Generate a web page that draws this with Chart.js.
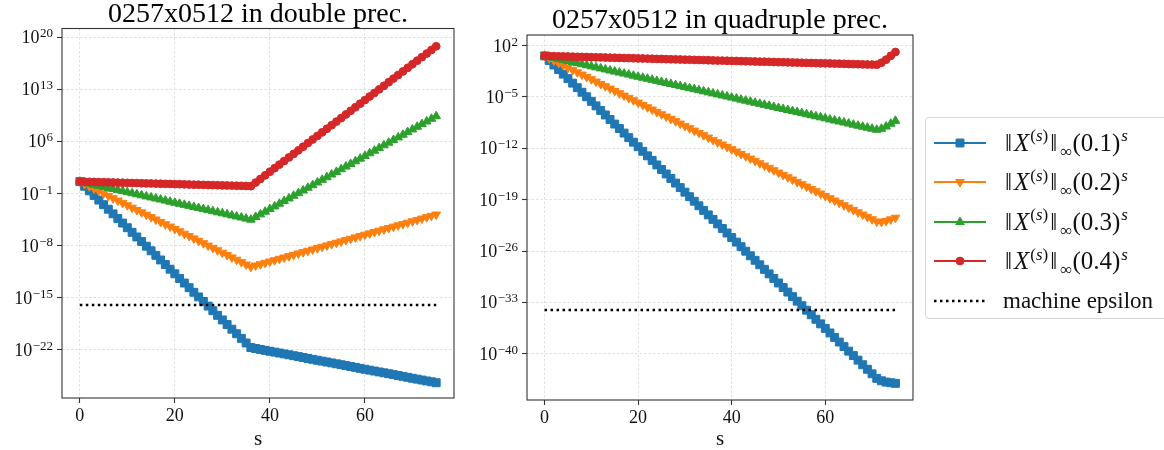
<!DOCTYPE html>
<html>
<head>
<meta charset="utf-8">
<title>0257x0512 norms</title>
<script src="https://cdn.jsdelivr.net/npm/chart.js@4.4.1/dist/chart.umd.min.js"></script>
<style>
  html, body { margin: 0; padding: 0; background: #fff; overflow: hidden; }
  #wrap { position: relative; width: 1164px; height: 450px; }
  canvas.plot { position: absolute; top: 0; }
  #legend {
    position: absolute; left: 925px; top: 117px; width: 260px; height: 200px;
    border: 1px solid #d6d6d6; border-radius: 4px; background: #fff;
    font-family: 'Liberation Serif', 'DejaVu Serif', serif; font-size: 23px; color: #111;
  }
  .item { position: absolute; left: 0; height: 30px; display: flex; align-items: center; white-space: nowrap; }
  .item canvas { margin-left: 8px; margin-right: 17px; }
  .item .math { font-size: 25px; }
  .item .bar { padding: 0 2px; }
  .item sup, .item sub { font-size: 17px; line-height: 0; margin-left: 1px; }
</style>
</head>
<body>
<div id="wrap">
  <canvas id="chartDouble" class="plot" width="470" height="450" style="left:0"></canvas>
  <canvas id="chartQuad" class="plot" width="450" height="450" style="left:470px"></canvas>
  <div id="legend"></div>
</div>
<script>
const FONT = "'Liberation Serif', 'DejaVu Serif', serif";

// iteration index s
const steps = [0, 1, 2, 3, 4, 5, 6, 7, 8, 9, 10, 11, 12, 13, 14, 15, 16, 17, 18, 19,
  20, 21, 22, 23, 24, 25, 26, 27, 28, 29, 30, 31, 32, 33, 34, 35, 36, 37, 38, 39,
  40, 41, 42, 43, 44, 45, 46, 47, 48, 49, 50, 51, 52, 53, 54, 55, 56, 57, 58, 59,
  60, 61, 62, 63, 64, 65, 66, 67, 68, 69, 70, 71, 72, 73, 74, 75];

const bases = ['0.1', '0.2', '0.3', '0.4'];
const xTicks = [0, 20, 40, 60];
const dblTickExp = [-22, -15, -8, -1, 6, 13, 20];
const quadTickExp = [-40, -33, -26, -19, -12, -5, 2];

// unit roundoff, 2^-53 and 2^-113
const epsDouble = 1.1102230246251565e-16;
const epsQuad = 9.629649721936179e-35;

// log10 of ||X^(s)||_inf * base^s, double precision run
const dbl01 = [0.60, -0.02, -0.64, -1.26, -1.88, -2.50, -3.11, -3.73, -4.35, -4.97,
  -5.59, -6.21, -6.83, -7.45, -8.07, -8.69, -9.30, -9.92, -10.54, -11.16,
  -11.78, -12.40, -13.02, -13.64, -14.26, -14.88, -15.49, -16.11, -16.73, -17.35,
  -17.97, -18.59, -19.21, -19.83, -20.45, -21.07, -21.68, -21.80, -21.93, -22.05,
  -22.17, -22.29, -22.41, -22.53, -22.65, -22.77, -22.89, -23.01, -23.14, -23.26,
  -23.38, -23.50, -23.62, -23.74, -23.86, -23.98, -24.10, -24.22, -24.34, -24.47,
  -24.59, -24.71, -24.83, -24.95, -25.07, -25.19, -25.31, -25.43, -25.55, -25.67,
  -25.80, -25.92, -26.04, -26.16, -26.28, -26.40];
const dbl02 = [0.60, 0.28, -0.04, -0.35, -0.67, -0.99, -1.31, -1.63, -1.94, -2.26,
  -2.58, -2.90, -3.22, -3.53, -3.85, -4.17, -4.49, -4.81, -5.12, -5.44,
  -5.76, -6.08, -6.40, -6.71, -7.03, -7.35, -7.67, -7.99, -8.30, -8.62,
  -8.94, -9.26, -9.58, -9.89, -10.21, -10.53, -10.85, -10.67, -10.49, -10.31,
  -10.13, -9.95, -9.77, -9.59, -9.41, -9.23, -9.05, -8.87, -8.69, -8.51,
  -8.33, -8.15, -7.97, -7.79, -7.61, -7.43, -7.25, -7.07, -6.89, -6.71,
  -6.53, -6.35, -6.17, -5.99, -5.81, -5.63, -5.45, -5.27, -5.09, -4.91,
  -4.73, -4.55, -4.37, -4.18, -4.00, -3.82];
const dbl03 = [0.60, 0.46, 0.32, 0.17, 0.03, -0.11, -0.25, -0.39, -0.54, -0.68,
  -0.82, -0.96, -1.10, -1.24, -1.39, -1.53, -1.67, -1.81, -1.95, -2.10,
  -2.24, -2.38, -2.52, -2.66, -2.81, -2.95, -3.09, -3.23, -3.37, -3.52,
  -3.66, -3.80, -3.94, -4.08, -4.22, -4.37, -4.51, -4.15, -3.80, -3.44,
  -3.08, -2.73, -2.37, -2.01, -1.66, -1.30, -0.95, -0.59, -0.23, 0.12,
  0.48, 0.84, 1.19, 1.55, 1.90, 2.26, 2.62, 2.97, 3.33, 3.68,
  4.04, 4.40, 4.75, 5.11, 5.47, 5.82, 6.18, 6.53, 6.89, 7.25,
  7.60, 7.96, 8.32, 8.67, 9.03, 9.38];
const dbl04 = [0.60, 0.58, 0.57, 0.55, 0.53, 0.52, 0.50, 0.48, 0.46, 0.45,
  0.43, 0.41, 0.40, 0.38, 0.36, 0.35, 0.33, 0.31, 0.30, 0.28,
  0.26, 0.25, 0.23, 0.21, 0.19, 0.18, 0.16, 0.14, 0.13, 0.11,
  0.09, 0.08, 0.06, 0.04, 0.03, 0.01, -0.01, 0.47, 0.95, 1.44,
  1.92, 2.40, 2.88, 3.36, 3.84, 4.32, 4.80, 5.28, 5.77, 6.25,
  6.73, 7.21, 7.69, 8.17, 8.65, 9.13, 9.61, 10.10, 10.58, 11.06,
  11.54, 12.02, 12.50, 12.98, 13.46, 13.94, 14.43, 14.91, 15.39, 15.87,
  16.35, 16.83, 17.31, 17.79, 18.27, 18.76];

// same quantities, quadruple precision run
const quad01 = [0.60, -0.02, -0.64, -1.26, -1.88, -2.50, -3.11, -3.73, -4.35, -4.97,
  -5.59, -6.21, -6.83, -7.45, -8.07, -8.69, -9.30, -9.92, -10.54, -11.16,
  -11.78, -12.40, -13.02, -13.64, -14.26, -14.88, -15.49, -16.11, -16.73, -17.35,
  -17.97, -18.59, -19.21, -19.83, -20.45, -21.07, -21.68, -22.30, -22.92, -23.54,
  -24.16, -24.78, -25.40, -26.02, -26.64, -27.26, -27.87, -28.49, -29.11, -29.73,
  -30.35, -30.97, -31.59, -32.21, -32.83, -33.45, -34.06, -34.68, -35.30, -35.92,
  -36.54, -37.16, -37.78, -38.40, -39.02, -39.64, -40.25, -40.87, -41.49, -42.11,
  -42.73, -43.35, -43.68, -43.86, -43.95, -44.03];
const quad02 = [0.60, 0.28, -0.04, -0.35, -0.67, -0.99, -1.31, -1.63, -1.94, -2.26,
  -2.58, -2.90, -3.22, -3.53, -3.85, -4.17, -4.49, -4.81, -5.12, -5.44,
  -5.76, -6.08, -6.40, -6.71, -7.03, -7.35, -7.67, -7.99, -8.30, -8.62,
  -8.94, -9.26, -9.58, -9.89, -10.21, -10.53, -10.85, -11.17, -11.48, -11.80,
  -12.12, -12.44, -12.76, -13.07, -13.39, -13.71, -14.03, -14.35, -14.66, -14.98,
  -15.30, -15.62, -15.94, -16.25, -16.57, -16.89, -17.21, -17.53, -17.84, -18.16,
  -18.48, -18.80, -19.12, -19.43, -19.75, -20.07, -20.39, -20.71, -21.02, -21.34,
  -21.66, -21.98, -22.01, -21.89, -21.68, -21.46];
const quad03 = [0.60, 0.46, 0.32, 0.17, 0.03, -0.11, -0.25, -0.39, -0.54, -0.68,
  -0.82, -0.96, -1.10, -1.24, -1.39, -1.53, -1.67, -1.81, -1.95, -2.10,
  -2.24, -2.38, -2.52, -2.66, -2.81, -2.95, -3.09, -3.23, -3.37, -3.52,
  -3.66, -3.80, -3.94, -4.08, -4.22, -4.37, -4.51, -4.65, -4.79, -4.93,
  -5.08, -5.22, -5.36, -5.50, -5.64, -5.79, -5.93, -6.07, -6.21, -6.35,
  -6.50, -6.64, -6.78, -6.92, -7.06, -7.20, -7.35, -7.49, -7.63, -7.77,
  -7.91, -8.06, -8.20, -8.34, -8.48, -8.62, -8.77, -8.91, -9.05, -9.19,
  -9.33, -9.47, -9.33, -9.03, -8.64, -8.25];
const quad04 = [0.60, 0.58, 0.57, 0.55, 0.53, 0.52, 0.50, 0.48, 0.46, 0.45,
  0.43, 0.41, 0.40, 0.38, 0.36, 0.35, 0.33, 0.31, 0.30, 0.28,
  0.26, 0.25, 0.23, 0.21, 0.19, 0.18, 0.16, 0.14, 0.13, 0.11,
  0.09, 0.08, 0.06, 0.04, 0.03, 0.01, -0.01, -0.03, -0.04, -0.06,
  -0.08, -0.09, -0.11, -0.13, -0.14, -0.16, -0.18, -0.19, -0.21, -0.23,
  -0.25, -0.26, -0.28, -0.30, -0.31, -0.33, -0.35, -0.36, -0.38, -0.40,
  -0.41, -0.43, -0.45, -0.46, -0.48, -0.50, -0.52, -0.53, -0.55, -0.57,
  -0.58, -0.60, -0.33, 0.09, 0.61, 1.13];

// matplotlib tab colours and marker shapes per base
const styles = [
  { color: '#1f77b4', point: 'rect', rot: 0, r: 5.6 },
  { color: '#ff7f0e', point: 'triangle', rot: 180, r: 5 },
  { color: '#2ca02c', point: 'triangle', rot: 0, r: 5 },
  { color: '#d62728', point: 'circle', rot: 0, r: 3.9 }
];

function series(exps, k) {
  const st = styles[k];
  return {
    data: exps.map((e, i) => ({ x: steps[i], y: 10 ** e })),
    borderColor: st.color,
    backgroundColor: st.color,
    borderWidth: 2,
    pointStyle: st.point,
    pointRotation: st.rot,
    pointRadius: st.r,
    pointBorderWidth: 1,
    pointBackgroundColor: st.color,
    pointBorderColor: st.color,
    tension: 0,
    fill: false,
    order: 4 - k
  };
}

function epsLine(eps) {
  return {
    data: [{ x: steps[0], y: eps }, { x: steps[steps.length - 1], y: eps }],
    borderColor: '#000',
    borderWidth: 2.5,
    borderDash: [2.5, 3.5],
    pointRadius: 0,
    fill: false,
    order: 0
  };
}

// top/right spines and 10^n tick labels
const framePlugin = {
  id: 'frame',
  afterDraw(chart) {
    const { ctx, chartArea: a } = chart;
    const y = chart.scales.y;
    ctx.save();
    ctx.strokeStyle = '#333';
    ctx.lineWidth = 1.1;
    ctx.strokeRect(a.left, a.top, a.right - a.left, a.bottom - a.top);
    ctx.fillStyle = '#111';
    ctx.textAlign = 'left';
    ctx.textBaseline = 'alphabetic';
    y.ticks.forEach(t => {
      const py = y.getPixelForValue(t.value);
      const exp = String(Math.round(Math.log10(t.value))).replace('-', '\u2212');
      ctx.font = '18px ' + FONT;
      const wb = ctx.measureText('10').width;
      ctx.font = '13px ' + FONT;
      const we = ctx.measureText(exp).width;
      const x0 = a.left - 9 - wb - we - 0.5;
      ctx.font = '18px ' + FONT;
      ctx.fillText('10', x0, py + 6);
      ctx.font = '13px ' + FONT;
      ctx.fillText(exp, x0 + wb + 0.5, py);
    });
    ctx.restore();
  }
};

function makeOptions(cfg) {
  const grid = {
    color: 'rgba(190,190,190,0.6)',
    lineWidth: 0.8,
    tickLength: 5,
    tickColor: '#333',
    tickWidth: 1.1
  };
  return {
    responsive: false,
    animation: false,
    events: [],
    layout: { padding: { left: 0, right: cfg.padRight, top: 0, bottom: 0 } },
    plugins: {
      legend: { display: false },
      tooltip: { enabled: false },
      title: {
        display: true,
        fullSize: false,
        text: cfg.title,
        color: '#000',
        font: { family: FONT, size: 28, weight: 'normal', lineHeight: 1 },
        padding: { top: cfg.titleTop, bottom: 0 }
      }
    },
    scales: {
      x: {
        type: 'linear',
        min: -3.75,
        max: 78.75,
        bounds: 'data',
        afterBuildTicks: s => { s.ticks = xTicks.map(v => ({ value: v })); },
        afterFit: s => { s.height = cfg.xHeight; },
        ticks: { color: '#111', font: { family: FONT, size: 18 }, padding: 2, maxRotation: 0, autoSkip: false },
        grid: grid,
        border: { display: false, dash: [2.5, 2] },
        title: { display: true, text: 's', color: '#111', font: { family: FONT, size: 21, lineHeight: 1 }, padding: { top: 0, bottom: 0 } }
      },
      y: {
        type: 'logarithmic',
        min: 10 ** cfg.yMin,
        max: 10 ** cfg.yMax,
        bounds: 'data',
        afterBuildTicks: s => { s.ticks = cfg.tickExp.map(e => ({ value: 10 ** e })); },
        afterFit: s => { s.width = cfg.yWidth; },
        ticks: { display: false },
        grid: grid,
        border: { display: false, dash: [2.5, 2] }
      }
    }
  };
}

new Chart(document.getElementById('chartDouble'), {
  type: 'line',
  data: { datasets: [series(dbl01, 0), series(dbl02, 1), series(dbl03, 2), series(dbl04, 3), epsLine(epsDouble)] },
  options: makeOptions({ title: '0257x0512 in double prec.', yMin: -28.45, yMax: 21.15, tickExp: dblTickExp,
    yWidth: 62, xHeight: 52, padRight: 16, titleTop: 0.5 }),
  plugins: [framePlugin]
});

new Chart(document.getElementById('chartQuad'), {
  type: 'line',
  data: { datasets: [series(quad01, 0), series(quad02, 1), series(quad03, 2), series(quad04, 3), epsLine(epsQuad)] },
  options: makeOptions({ title: '0257x0512 in quadruple prec.', yMin: -46.3, yMax: 3.45, tickExp: quadTickExp,
    yWidth: 57, xHeight: 50, padRight: 7, titleTop: 7 }),
  plugins: [framePlugin]
});

// shared legend on the right
const legend = document.getElementById('legend');
const bar = '<span class="bar">\u2016</span>';
const entries = bases.map((b, k) => ({
  html: '<span class="math">' + bar + '<i>X</i><sup>(<i>s</i>)</sup>' + bar + '<sub>\u221e</sub>(' + b + ')<sup><i>s</i></sup></span>',
  style: styles[k]
}));
entries.push({ html: 'machine epsilon', style: null });

entries.forEach((en, i) => {
  const row = document.createElement('div');
  row.className = 'item';
  row.style.top = (24.5 + 39.5 * i - 15) + 'px';
  const cv = document.createElement('canvas');
  cv.width = 52;
  cv.height = 20;
  const ctx = cv.getContext('2d');
  if (en.style) {
    ctx.strokeStyle = en.style.color;
    ctx.lineWidth = 2;
    ctx.beginPath(); ctx.moveTo(0, 10); ctx.lineTo(52, 10); ctx.stroke();
    ctx.fillStyle = en.style.color;
    ctx.lineWidth = 1;
    if (Chart.helpers && Chart.helpers.drawPoint) {
      Chart.helpers.drawPoint(ctx, { pointStyle: en.style.point, radius: en.style.r, rotation: en.style.rot, borderWidth: 1 }, 26, 10);
    }
  } else {
    ctx.strokeStyle = '#000';
    ctx.lineWidth = 2.5;
    ctx.setLineDash([2.5, 3.5]);
    ctx.beginPath(); ctx.moveTo(0, 10); ctx.lineTo(52, 10); ctx.stroke();
  }
  const lbl = document.createElement('span');
  lbl.innerHTML = en.html;
  row.appendChild(cv);
  row.appendChild(lbl);
  legend.appendChild(row);
});
</script>
</body>
</html>
